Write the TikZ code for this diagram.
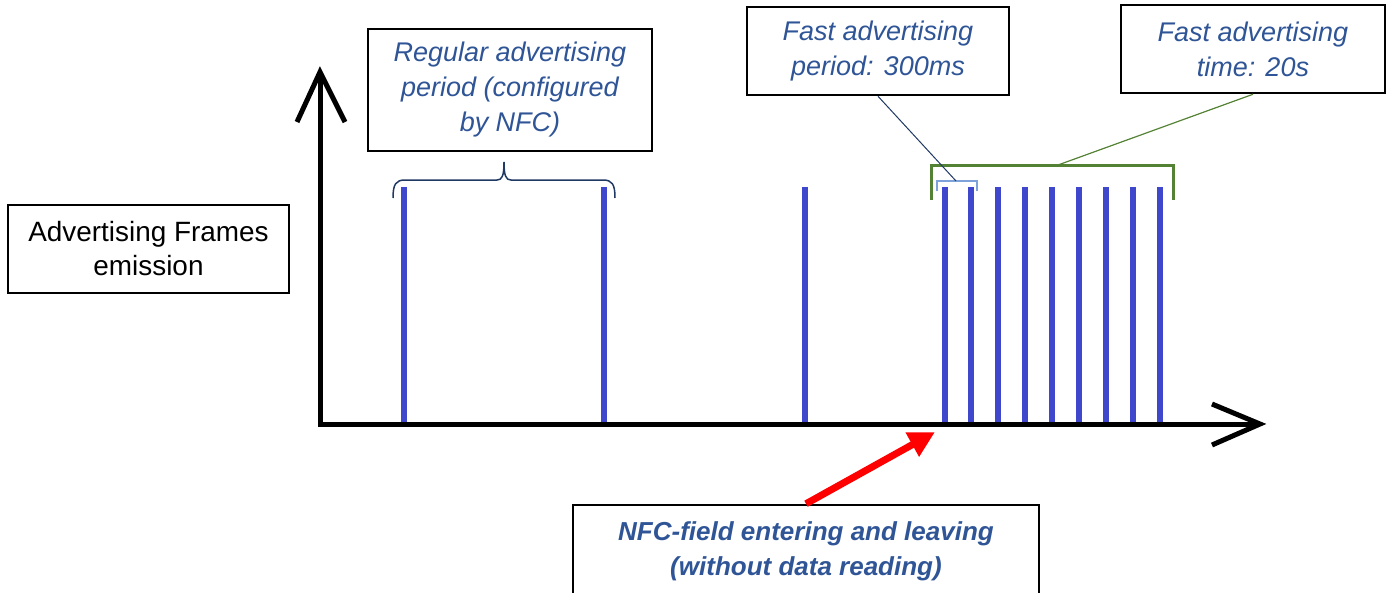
\documentclass[tikz,border=0pt]{standalone}
\usepackage{fontspec}
\setmainfont{Liberation Sans}
\usetikzlibrary{arrows.meta}
\definecolor{txtblue}{HTML}{2F5597}
\definecolor{barblue}{HTML}{3F48CC}
\definecolor{bracedark}{HTML}{203864}
\definecolor{bracelight}{HTML}{7EA2DA}
\definecolor{brgreen}{HTML}{548235}
\tikzset{
  box/.style={draw=black, line width=2.5pt, fill=white, inner sep=0pt, align=center},
  blabel/.style={box, text=txtblue, font=\fontsize{27}{35}\selectfont\itshape},
  bar/.style={draw=barblue, line width=6pt},
  axis/.style={draw=black, line width=5pt},
  axhead/.style={draw=black, line width=5pt, line join=miter, line cap=butt},
}
\begin{document}
\begin{tikzpicture}[x=1pt,y=-1pt]
\useasboundingbox (0,0) rectangle (1387,592);
% axes
\coordinate (o) at (320,425);
\coordinate (ytip) at (320,72);
\coordinate (xtip) at (1260,424);
\draw[axis] (320,427) -- (ytip);
\draw[axis] (318,424) -- (xtip);
\draw[axhead] (297,122) -- (ytip) -- (345,122);
\draw[axhead] (1212,404) -- (xtip) -- (1212,445);
% bars
\foreach \x in {404,604,805,945,971,998,1025,1052,1079,1106,1133,1160}
  \draw[bar] (\x,187) -- (\x,422);
% brace over regular period
\draw[bracedark, line width=1.5pt] (393,198) .. controls (393,184) and (396,180) .. (405,180) -- (497,180) .. controls (502,180) and (504,176) .. (504,162) .. controls (504,176) and (506,180) .. (511,180) -- (603,180) .. controls (612,180) and (615,184) .. (615,198);
% small bracket
\coordinate (fpfoot) at (956,181);
\draw[bracelight, line width=2pt] (937,191) -- (937,181) -- (977,181) -- (977,191);
% green bracket
\coordinate (ftfoot) at (1058,165);
\draw[brgreen, line width=3pt] (931,200) -- (931,165) -- (1173,165) -- (1173,200);
% boxes
\node[box, minimum width=281pt, minimum height=88pt, font=\fontsize{27.9}{34}\selectfont] (adv) at (148.5,249) {Advertising Frames\\emission};
\node[blabel, minimum width=284pt, minimum height=122pt] (reg) at (510,90) {Regular advertising\\period (configured\\by NFC)};
\node[blabel, minimum width=262pt, minimum height=88pt] (fp) at (878,51) {Fast advertising\\period: 300ms};
\node[blabel, minimum width=264pt, minimum height=88pt] (ft) at (1253,49) {Fast advertising\\time: 20s};
\node[box, text=txtblue, font=\fontsize{26}{35}\selectfont\bfseries\itshape, minimum width=466pt, minimum height=92pt] (nfc) at (806,551) {NFC-field entering and leaving\\(without data reading)};
% callout lines
\draw[bracedark, line width=1pt] (fp.south) -- (fpfoot);
\draw[brgreen, line width=1.2pt] (ft.south) -- (ftfoot);
% red arrow
\coordinate (nfctip) at (935,432);
\draw[red, line width=7pt, -{Triangle[length=26pt,width=26pt]}] (nfc.north) -- (nfctip);
\end{tikzpicture}
\end{document}
